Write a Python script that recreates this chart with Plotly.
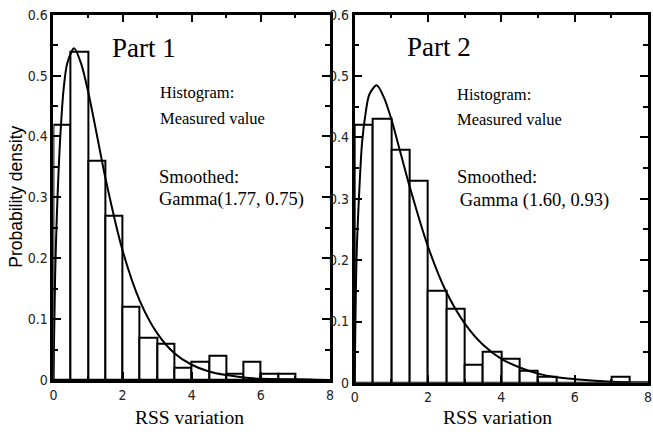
import plotly.graph_objects as go

# ---------------- data ----------------
bin_left = [0.0, 0.5, 1.0, 1.5, 2.0, 2.5, 3.0, 3.5, 4.0, 4.5, 5.0, 5.5, 6.0, 6.5, 7.0]
bin_width = 0.5
hist_part1 = [0.42, 0.54, 0.36, 0.27, 0.12, 0.07, 0.06, 0.02, 0.03, 0.04, 0.01, 0.03, 0.01, 0.01, 0.0]
hist_part2 = [0.42, 0.43, 0.38, 0.33, 0.15, 0.12, 0.03, 0.05, 0.04, 0.02, 0.01, 0.0, 0.0, 0.0, 0.01]

curve_x = [0.0, 0.05, 0.1, 0.2, 0.3, 0.4, 0.6, 0.8, 1.0, 1.25, 1.5, 2.0, 2.5, 3.0, 3.5,
           4.0, 4.5, 5.0, 5.5, 6.0, 7.0, 8.0]
curve_part1 = [0.0, 0.17, 0.27, 0.40, 0.48, 0.52, 0.545, 0.52, 0.475, 0.405, 0.333, 0.213,
               0.130, 0.077, 0.044, 0.025, 0.014, 0.008, 0.004, 0.002, 0.001, 0.0]
curve_part2 = [0.0, 0.20, 0.28, 0.39, 0.44, 0.47, 0.485, 0.465, 0.43, 0.375, 0.32, 0.222,
               0.148, 0.097, 0.062, 0.039, 0.025, 0.015, 0.009, 0.006, 0.002, 0.001]

x_ticks = [0, 2, 4, 6, 8]
y_ticks = [0, 0.1, 0.2, 0.3, 0.4, 0.5, 0.6]
y_tick_text = ["0", "0.1", "0.2", "0.3", "0.4", "0.5", "0.6"]

panel_titles = ["Part 1", "Part 2"]
hist_labels = ["Histogram:", "Measured value"]
smooth_labels = [["Smoothed:", "Gamma(1.77, 0.75)"], ["Smoothed:", " Gamma (1.60, 0.93)"]]

# ---------------- figure ----------------
W, H = 653, 440
SERIF = "Liberation Serif, Times New Roman, serif"
SANS = "Liberation Sans, Arial, sans-serif"
NARROW = "Liberation Sans Narrow, DejaVu Sans Condensed, Arial Narrow, sans-serif"

fig = go.Figure()

for i, (hist, curve) in enumerate([(hist_part1, curve_part1), (hist_part2, curve_part2)]):
    xa = "x" if i == 0 else "x2"
    ya = "y" if i == 0 else "y2"
    fig.add_trace(go.Bar(
        x=bin_left, y=hist, width=bin_width, offset=0,
        marker=dict(color="white", line=dict(color="black", width=2)),
        xaxis=xa, yaxis=ya, showlegend=False, hoverinfo="skip"))
    fig.add_trace(go.Scatter(
        x=curve_x, y=curve, mode="lines",
        line=dict(color="black", width=2, shape="spline", smoothing=0.8),
        xaxis=xa, yaxis=ya, showlegend=False, hoverinfo="skip"))

def px_x(p):
    return p / W

def px_y(p):
    return 1 - p / H

axis_common = dict(
    showline=True, linecolor="black", linewidth=2.5, mirror="ticks",
    ticks="inside", tickcolor="black", tickwidth=2, showgrid=False, zeroline=False,
    tickfont=dict(family=NARROW, size=14, color="#222"), ticklabeloverflow="allow",
)

fig.update_layout(
    width=W, height=H, margin=dict(l=0, r=0, t=0, b=0),
    paper_bgcolor="white", plot_bgcolor="white", bargap=0,
    xaxis=dict(domain=[px_x(50), px_x(330)], range=[0, 8], tickvals=x_ticks,
               ticklen=8, minor=dict(dtick=1, ticks="inside", ticklen=4, tickwidth=2, tickcolor="black"),
               anchor="y", **axis_common),
    yaxis=dict(domain=[px_y(386), px_y(7)], range=[0, 0.6], tickvals=y_ticks, ticktext=y_tick_text,
               ticklen=8, minor=dict(dtick=0.05, ticks="inside", ticklen=5, tickwidth=2, tickcolor="black"),
               anchor="x", **axis_common),
    xaxis2=dict(domain=[px_x(355), px_x(652)], range=[0, 8], tickvals=x_ticks,
                ticklen=8, minor=dict(dtick=1, ticks="inside", ticklen=4, tickwidth=2, tickcolor="black"),
                anchor="y2", **axis_common),
    yaxis2=dict(domain=[px_y(389), px_y(7)], range=[0, 0.6], tickvals=y_ticks, ticktext=y_tick_text,
                ticklen=8, minor=dict(dtick=0.05, ticks="inside", ticklen=5, tickwidth=2, tickcolor="black"),
                anchor="x2", **axis_common),
)

ann = []
def add_text(text, x, y, size, family=SERIF, xanchor="left", angle=0):
    ann.append(dict(text=text, x=px_x(x), y=px_y(y), xref="paper", yref="paper",
                    xanchor=xanchor, yanchor="middle", showarrow=False, textangle=angle,
                    font=dict(family=family, size=size, color="black")))

# Part 1 panel texts
add_text(panel_titles[0], 107, 41, 27)
add_text(hist_labels[0], 156, 88, 16.5)
add_text(hist_labels[1], 156, 115, 16.5)
add_text(smooth_labels[0][0], 155, 175, 18.5)
add_text(smooth_labels[0][1], 155, 199, 18.5)
# Part 2 panel texts
add_text(panel_titles[1], 406, 40, 27)
add_text(hist_labels[0], 457, 90, 16.5)
add_text(hist_labels[1], 457, 116, 16.5)
add_text(smooth_labels[1][0], 457, 175, 18.5)
add_text(smooth_labels[1][1], 455, 200, 18.5)
# axis titles
add_text("RSS variation", 188, 425, 19.5, family=SERIF, xanchor="center")
add_text("RSS variation", 500, 425, 19.5, family=SERIF, xanchor="center")
add_text("Probability density", 12, 196, 17.5, family=SANS, xanchor="center", angle=-90)

fig.update_layout(annotations=ann)
fig.write_html("out.html")
